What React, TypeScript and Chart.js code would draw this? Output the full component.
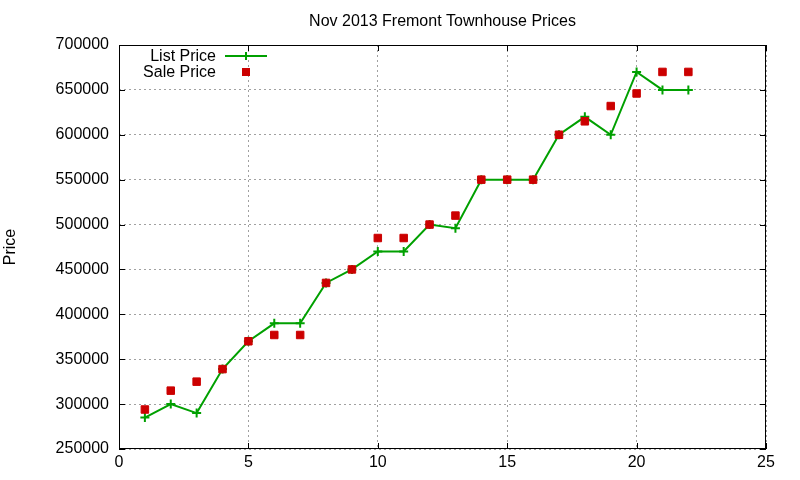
import { useEffect, useRef } from 'react';
import { Chart, registerables } from 'chart.js';

Chart.register(...registerables);

const houseIndex = [1, 2, 3, 4, 5, 6, 7, 8, 9, 10, 11, 12, 13, 14, 15, 16, 17, 18, 19, 20, 21, 22];
const listPrice = [285000, 300000, 290000, 339000, 370000, 390000, 390000, 435000, 450000, 470000, 470000, 500000, 496000, 550000, 550000, 550000, 600000, 620000, 600000, 670000, 650000, 650000];
const salePrice = [294000, 315000, 325000, 339000, 370000, 377000, 377000, 435000, 450000, 485000, 485000, 500000, 510000, 550000, 550000, 550000, 600000, 615000, 632000, 646000, 670000, 670000];

const chartTitle = 'Nov 2013 Fremont Townhouse Prices';
const seriesNames = ['List Price', 'Sale Price'];
const xTicks = [0, 5, 10, 15, 20, 25];
const yTicks = [250000, 300000, 350000, 400000, 450000, 500000, 550000, 600000, 650000, 700000];

const FONT = '"Liberation Sans", Arial, sans-serif';
const GREEN = 'rgb(0, 160, 0)';
const RED = 'rgb(204, 0, 0)';

// gnuplot-ish frame: border box, inward tick marks, title, key
const framePlugin = {
  id: 'frame',
  beforeDatasetsDraw(chart: any) {
    const { ctx, chartArea: a, scales } = chart;
    ctx.save();
    ctx.strokeStyle = '#000';
    ctx.lineWidth = 1;
    ctx.strokeRect(a.left + 0.5, a.top + 0.5, a.right - a.left - 1, a.bottom - a.top - 1);
    ctx.beginPath();
    const len = 6;
    xTicks.forEach(v => {
      const x = Math.round(scales.x.getPixelForValue(v)) + 0.5;
      ctx.moveTo(x, a.bottom);
      ctx.lineTo(x, a.bottom - len);
      ctx.moveTo(x, a.top);
      ctx.lineTo(x, a.top + len);
    });
    yTicks.forEach(v => {
      const y = Math.round(scales.y.getPixelForValue(v)) + 0.5;
      ctx.moveTo(a.left, y);
      ctx.lineTo(a.left + len, y);
      ctx.moveTo(a.right, y);
      ctx.lineTo(a.right - len, y);
    });
    ctx.stroke();
    ctx.restore();
  },
  afterDraw(chart: any) {
    const { ctx, chartArea: a } = chart;
    ctx.save();
    ctx.fillStyle = '#000';
    ctx.font = '16px ' + FONT;
    ctx.textBaseline = 'middle';
    ctx.textAlign = 'center';
    ctx.fillText(chartTitle, (a.left + a.right) / 2, 22);

    // key
    const textRight = a.left + 97;
    const sampleX = a.left + 127;
    const row1 = a.top + 11;
    const row2 = a.top + 27;
    ctx.textAlign = 'right';
    ctx.fillText(seriesNames[0], textRight, row1 + 1);
    ctx.fillText(seriesNames[1], textRight, row2 + 1);

    ctx.strokeStyle = GREEN;
    ctx.lineWidth = 2;
    ctx.beginPath();
    ctx.moveTo(sampleX - 21, row1);
    ctx.lineTo(sampleX + 21, row1);
    ctx.moveTo(sampleX, row1 - 4);
    ctx.lineTo(sampleX, row1 + 4);
    ctx.stroke();

    ctx.fillStyle = RED;
    ctx.fillRect(sampleX - 4, row2 - 4, 8, 8);
    ctx.restore();
  }
};

export default function App() {
  const chartRef = useRef<HTMLCanvasElement>(null);
  const chartInstance = useRef<Chart | null>(null);

  useEffect(() => {
    if (!chartRef.current) return;
    if (chartInstance.current) {
      chartInstance.current.destroy();
    }
    const ctx = chartRef.current.getContext('2d');
    if (!ctx) return;

    Chart.defaults.font.family = FONT;
    Chart.defaults.color = '#000';

    chartInstance.current = new Chart(ctx, {
      type: 'line',
      data: {
        datasets: [
          {
            label: seriesNames[0],
            data: houseIndex.map((x, i) => ({ x, y: listPrice[i] })),
            borderColor: GREEN,
            backgroundColor: GREEN,
            borderWidth: 2,
            pointStyle: 'cross',
            pointRadius: 4.5,
            pointBorderWidth: 2,
            tension: 0,
            fill: false,
            order: 1
          },
          {
            label: seriesNames[1],
            data: houseIndex.map((x, i) => ({ x, y: salePrice[i] })),
            borderColor: RED,
            backgroundColor: RED,
            showLine: false,
            pointStyle: 'rect',
            pointRadius: 5.3,
            pointBorderWidth: 1,
            order: 0
          }
        ]
      },
      options: {
        responsive: false,
        animation: false,
        layout: { padding: { top: 45, right: 34, left: 0, bottom: 0 } },
        plugins: {
          legend: { display: false },
          title: { display: false },
          tooltip: { enabled: false }
        },
        scales: {
          x: {
            type: 'linear',
            min: 0,
            max: 25,
            afterBuildTicks: (scale: any) => {
              scale.ticks = xTicks.map(v => ({ value: v }));
            },
            afterFit: (scale: any) => {
              scale.height = 31;
            },
            ticks: {
              padding: 4,
              font: { size: 16 },
              maxRotation: 0,
              callback: (v: any) => String(v)
            },
            grid: { color: '#a0a0a0', lineWidth: 1, drawTicks: false },
            border: { display: false, dash: [2, 3] }
          },
          y: {
            type: 'linear',
            min: 250000,
            max: 700000,
            afterBuildTicks: (scale: any) => {
              scale.ticks = yTicks.map(v => ({ value: v }));
            },
            afterFit: (scale: any) => {
              scale.width = 119;
            },
            title: {
              display: true,
              text: 'Price',
              font: { size: 16 },
              padding: { top: 1, bottom: 0 }
            },
            ticks: {
              padding: 10,
              font: { size: 16 },
              callback: (v: any) => String(v)
            },
            grid: { color: '#a0a0a0', lineWidth: 1, drawTicks: false },
            border: { display: false, dash: [2, 3] }
          }
        }
      },
      plugins: [framePlugin]
    } as any);

    return () => {
      if (chartInstance.current) {
        chartInstance.current.destroy();
        chartInstance.current = null;
      }
    };
  }, []);

  return (
    <div style={{ position: 'absolute', left: 0, top: 0, width: 800, height: 480, background: '#fff' }}>
      <canvas ref={chartRef} width={800} height={480} />
    </div>
  );
}
